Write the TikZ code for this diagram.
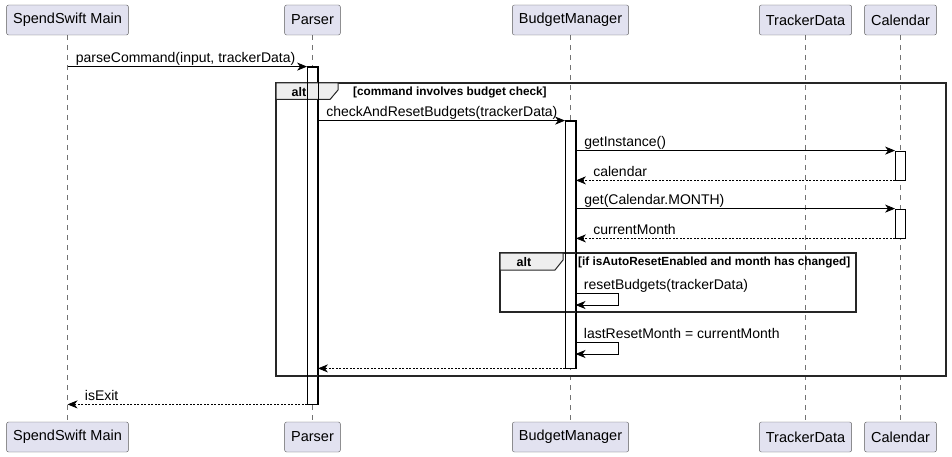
\documentclass[tikz,border=0pt]{standalone}
\usepackage{fontspec}
\setmainfont{Liberation Sans}
\usetikzlibrary{arrows.meta,positioning}
\definecolor{boxfill}{HTML}{E2E2F0}
\definecolor{tabfill}{HTML}{EEEEEE}
\begin{document}
\begin{tikzpicture}[x=1pt,y=-1pt,
    actor/.style={draw=black!65,fill=boxfill,rounded corners=2pt,minimum height=30pt,inner xsep=6.5pt,font=\fontsize{14.5}{17}\selectfont},
    lifeline/.style={draw=black!55,dash pattern=on 5pt off 5pt,line width=0.5pt},
    act/.style={draw=black,fill=white,minimum width=10pt,inner sep=0pt,line width=0.8pt},
    msg/.style={-{Stealth[length=10pt,width=8pt,inset=3pt]},line width=0.8pt},
    ret/.style={msg,dash pattern=on 2pt off 1.5pt},
    lbl/.style={font=\fontsize{14}{16}\selectfont,inner sep=0pt,anchor=base west,yshift=4pt},
    frame/.style={draw=black!85,line width=1.4pt},
    tab/.style={frame,fill=tabfill,line width=1pt},
    alttxt/.style={font=\bfseries\fontsize{12.5}{14}\selectfont,inner sep=0pt},
    cond/.style={font=\bfseries\fontsize{11.8}{13}\selectfont,inner sep=0pt,anchor=west}]
  \useasboundingbox (0,0) rectangle (952,457);

  % participants and lifelines
  \foreach \n/\x/\t in {main/67.5/SpendSwift Main,parser/312.5/Parser,budget/570.5/BudgetManager,tracker/805.5/TrackerData,cal/900.5/Calendar}{
    \draw[lifeline] (\x,35) -- (\x,422);
    \node[actor] (\n) at (\x,20) {\t};
    \node[actor] (\n-b) at (\x,437) {\t};
  }

  % activations
  \node[act,minimum height=337pt] (pAct) at (312.5,235.5) {};
  \node[act,minimum height=247pt] (bAct) at (570.5,244.5) {};
  \node[act,minimum height=29pt] (cAct1) at (900.5,165.5) {};
  \node[act,minimum height=29pt] (cAct2) at (900.5,223.5) {};

  % alt frames
  \draw[frame] (276,83) rectangle (946,376);
  \draw[tab] (276,83) -- (338,83) -- (338,90) -- (330,99.5) -- (276,99.5) -- cycle;
  \node[alttxt] (alt1) at (299,92) {alt};
  \node[cond] (cond1) at (353,92) {[command involves budget check]};
  \draw[frame] (500,253) rectangle (856,312);
  \draw[tab] (500,253) -- (563,253) -- (563,260) -- (555,270) -- (500,270) -- cycle;
  \node[alttxt] (alt2) at (524,262) {alt};
  \node[cond] (cond2) at (578,262) {[if isAutoResetEnabled and month has changed]};
  \foreach \a in {pAct,bAct}
    \draw[line width=0.8pt] (\a.north west) rectangle (\a.south east);

  % messages
  \draw[msg] (main |- pAct.north) -- (pAct.north west)
    node[lbl,pos=0,xshift=8pt] {parseCommand(input, trackerData)};
  \draw[msg] (pAct.east |- bAct.north) -- (bAct.north west)
    node[lbl,pos=0,xshift=8pt] {checkAndResetBudgets(trackerData)};
  \draw[msg] (bAct.east |- cAct1.north) -- (cAct1.north west)
    node[lbl,pos=0,xshift=8pt] {getInstance()};
  \draw[ret] (cAct1.south west) -- (bAct.east |- cAct1.south)
    node[lbl,pos=1,xshift=17pt] {calendar};
  \draw[msg] (bAct.east |- cAct2.north) -- (cAct2.north west)
    node[lbl,pos=0,xshift=8pt] {get(Calendar.MONTH)};
  \draw[ret] (cAct2.south west) -- (bAct.east |- cAct2.south)
    node[lbl,pos=1,xshift=17pt] {currentMonth};

  % self calls
  \coordinate (self1) at (575.5,293);
  \coordinate (self2) at (575.5,342);
  \draw[msg] (self1) node[lbl,xshift=8pt] {resetBudgets(trackerData)}
    -- ++(43,0) -- ++(0,12) -- ++(-43,0);
  \draw[msg] (self2) node[lbl,xshift=8pt] {lastResetMonth = currentMonth}
    -- ++(43,0) -- ++(0,12) -- ++(-43,0);

  % returns
  \draw[ret] (bAct.south west) -- (pAct.east |- bAct.south);
  \draw[ret] (pAct.south west) -- (main |- pAct.south)
    node[lbl,pos=1,xshift=17pt] {isExit};
\end{tikzpicture}
\end{document}
